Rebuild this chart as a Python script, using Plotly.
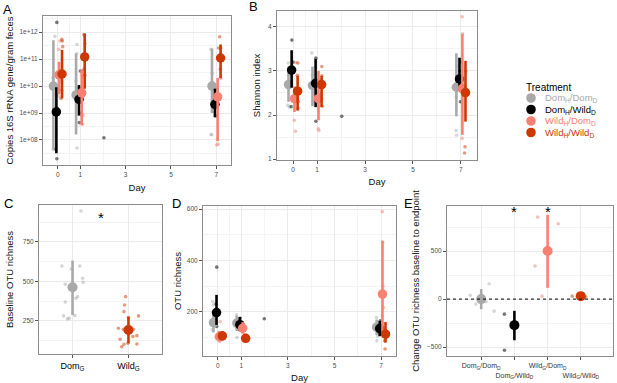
import plotly.graph_objects as go

W, H = 617, 383
FONT = "Liberation Sans, Arial, sans-serif"

# ---------------- data ----------------
days = [0, 1, 7]
groups = ["Dom<sub>H</sub>/Dom<sub>D</sub>", "Dom<sub>H</sub>/Wild<sub>D</sub>",
          "Wild<sub>H</sub>/Dom<sub>D</sub>", "Wild<sub>H</sub>/Wild<sub>D</sub>"]
group_colors = ["#A9A9A9", "#000000", "#FA8072", "#CD3700"]
raw_colors = ["rgba(169,169,169,0.45)", "rgba(30,30,30,0.6)",
              "rgba(250,128,114,0.5)", "rgba(205,55,0,0.5)"]
dodge = [-0.19, -0.06, 0.06, 0.19]
day_ticks = [0, 1, 3, 5, 7]

# Panel A: copies 16S rRNA gene / gram feces
a_mean = [[1.0e10, 4.7e9, 1.0e10], [1.1e9, 3.2e9, 2.1e9],
          [2.6e10, 5.6e9, 4.0e9], [2.8e10, 1.2e11, 1.1e11]]
a_low = [[4.5e7, 1.6e8, 1.0e9], [3.2e7, 8.0e8, 7.0e8],
         [5.0e9, 3.5e8, 9.0e7], [3.5e9, 8.0e9, 2.0e10]]
a_high = [[5.0e11, 1.6e11, 2.5e11], [9.0e9, 1.1e10, 8.0e9],
          [8.0e10, 4.0e10, 2.0e10], [2.2e11, 9.0e11, 3.5e11]]
a_raw_x = [[-0.13, -0.2, -0.22, -0.12, 0.85, 0.85, 0.84, 0.8, 6.76, 6.77, 6.8, 6.82],
           [-0.04, -0.1, -0.04, -0.02, 0.95, 1.0, 0.95, 1.0, 2.04, 7.0, 6.97, 7.0],
           [0.1, 0.05, 0.05, 0.12, 1.1, 1.05, 1.12, 1.08, 7.05, 7.08, 7.02],
           [0.18, 0.2, 0.22, 0.17, 0.15, 1.15, 1.15, 1.2, 1.2, 7.15, 7.2, 7.1, 7.18, 7.2]]
a_raw_y = [[7.0e11, 4.3e7, 2.0e10, 5.0e9, 3.5e11, 5.0e7, 1.6e11, 1.5e10, 2.3e11, 1.6e8, 1.55e8, 3.0e10],
           [2.3e12, 4.6e7, 2.0e7, 1.5e9, 8.7e9, 1.0e9, 4.4e8, 3.6e10, 1.2e8, 7.6e9, 7.8e8, 8.0e8],
           [4.7e11, 2.3e11, 4.3e9, 1.5e10, 3.8e8, 7.8e8, 8.5e8, 2.5e10, 1.1e8, 7.0e7, 6.5e7],
           [5.4e11, 4.7e11, 2.9e11, 7.0e9, 3.5e9, 8.0e11, 4.2e10, 3.8e11, 2.5e10, 6.8e11, 2.6e11, 2.6e11, 4.2e10, 2.0e10]]
a_ticks = [1e8, 1e9, 1e10, 1e11, 1e12]
a_ticktext = ["1e+08", "1e+09", "1e+10", "1e+11", "1e+12"]
a_minor = [3.16e7, 3.16e8, 3.16e9, 3.16e10, 3.16e11, 3.16e12]

# Panel B: Shannon index
b_mean = [[2.69, 2.67, 2.63], [3.02, 2.72, 2.82], [2.37, 2.37, 2.6], [2.54, 2.69, 2.51]]
b_low = [[2.3, 2.2, 1.97], [2.62, 2.18, 2.55], [2.07, 1.88, 1.55], [2.1, 2.18, 1.85]]
b_high = [[3.1, 3.1, 3.4], [3.47, 3.27, 3.3], [2.65, 3.0, 3.84], [2.89, 2.89, 3.23]]
b_raw_x = [[-0.2, -0.22, -0.15, -0.2, -0.18, 0.78, 0.82, 0.8, 0.85, 6.8, 6.82, 6.85, 6.8],
           [-0.05, -0.08, 0.0, 0.95, 0.95, 1.0, 2.03, 6.95, 6.98, 7.0],
           [0.05, 0.1, 0.12, 0.08, 1.05, 1.08, 1.1, 1.06, 7.05, 7.07, 7.05],
           [0.2, 0.18, 0.22, 0.2, 1.2, 1.2, 1.22, 1.18, 7.17, 7.15, 7.2, 7.18]]
b_raw_y = [[3.18, 2.22, 2.18, 2.6, 2.9, 3.41, 2.31, 2.9, 2.5, 1.65, 1.54, 3.1, 2.4],
           [3.7, 2.19, 3.2, 1.86, 3.29, 2.5, 1.97, 3.0, 2.3, 3.2],
           [1.88, 1.63, 3.19, 2.5, 1.69, 1.65, 2.8, 2.2, 4.23, 3.84, 1.47],
           [3.18, 2.9, 2.3, 2.15, 3.1, 2.89, 2.2, 2.5, 1.28, 1.14, 3.0, 2.6]]

# Panel C: baseline OTU richness
c_cats = ["Dom<sub>G</sub>", "Wild<sub>G</sub>"]
c_mean = [463, 193]
c_low = [288, 109]
c_high = [632, 277]
c_raw_dom_x = [1.15, 0.81, 1.13, 0.98, 1.18, 1.19, 0.87, 1.09, 1.06, 0.87, 0.84, 1.04, 0.91, 0.94]
c_raw_dom_y = [946, 598, 598, 579, 520, 495, 482, 404, 394, 370, 282, 284, 263, 267]
c_raw_wild_x = [1.95, 1.93, 1.92, 2.18, 2.0, 1.82, 1.91, 2.09, 2.15, 2.08, 1.85, 1.99, 1.92, 2.15, 1.88]
c_raw_wild_y = [404, 351, 309, 282, 271, 204, 197, 197, 157, 151, 134, 109, 102, 104, 87]

# Panel D: OTU richness
d_mean = [[158, 156, 140], [197, 150, 135], [103, 136, 269], [106, 97, 113]]
d_low = [[120, 125, 110], [149, 125, 105], [85, 115, 119], [90, 85, 80]]
d_high = [[200, 185, 170], [266, 180, 165], [125, 160, 477], [125, 110, 160]]
d_raw_x = [[-0.22, -0.2, -0.25, -0.18, 0.8, 0.82, 0.8, 0.85, 6.8, 6.82, 6.85, 6.8],
           [-0.05, -0.05, -0.08, 0.95, 0.95, 1.0, 1.99, 6.97, 6.95, 7.0],
           [0.1, 0.05, 0.08, 0.05, 1.05, 1.08, 1.06, 7.05, 7.07, 7.08, 7.1, 7.05],
           [0.2, 0.15, 0.22, 1.2, 1.22, 1.15, 7.2, 7.15, 7.17]]
d_raw_y = [[240, 227, 130, 180, 188, 100, 136, 165, 178, 87, 106, 150],
           [374, 143, 230, 175, 130, 160, 173, 165, 119, 150],
           [162, 91, 84, 120, 132, 123, 153, 590, 470, 301, 217, 184],
           [117, 97, 95, 106, 88, 110, 119, 87, 55]]

# Panel E: change in OTU richness baseline to endpoint
e_cats = ["Dom<sub>G</sub>/Dom<sub>D</sub>", "<br>Dom<sub>G</sub>/Wild<sub>D</sub>",
          "Wild<sub>G</sub>/Dom<sub>D</sub>", "<br>Wild<sub>G</sub>/Wild<sub>D</sub>"]
e_mean = [0, -272, 503, 31]
e_low = [-105, -430, 118, 15]
e_high = [105, -122, 880, 50]
e_raw_x = [[0.67, 1.24, 0.84, 1.39, 1.15], [1.7, 1.7], [2.7, 3.32, 2.62, 2.83], [3.74, 4.15, 4.05]]
e_raw_y = [[39, 160, -52, -126, -28], [-157, -534], [856, 786, 346, 31], [31, 24, 40]]

# ---------------- figure ----------------
fig = go.Figure()


def err(means, low, high):
    return dict(type="data", symmetric=False,
                array=[h - m for m, h in zip(means, high)],
                arrayminus=[m - l for m, l in zip(means, low)],
                thickness=2.6, width=0)


def add_time_panel(idx, mean, low, high, rx, ry):
    xa, ya = ("x", "y") if idx == 1 else (f"x{idx}", f"y{idx}")
    for g in range(4):
        fig.add_trace(go.Scatter(x=rx[g], y=ry[g], mode="markers", xaxis=xa, yaxis=ya,
                                 marker=dict(size=3.6, color=raw_colors[g], line=dict(width=0)),
                                 showlegend=False, hoverinfo="skip"))
    for g in range(4):
        fig.add_trace(go.Scatter(x=[d + dodge[g] for d in days], y=mean[g], mode="markers",
                                 xaxis=xa, yaxis=ya,
                                 marker=dict(size=9.5, color=group_colors[g], line=dict(width=0)),
                                 error_y=dict(err(mean[g], low[g], high[g]), color=group_colors[g]),
                                 showlegend=False, name=groups[g]))


add_time_panel(1, a_mean, a_low, a_high, a_raw_x, a_raw_y)
add_time_panel(2, b_mean, b_low, b_high, b_raw_x, b_raw_y)
add_time_panel(4, d_mean, d_low, d_high, d_raw_x, d_raw_y)

# Panel C
fig.add_trace(go.Scatter(x=c_raw_dom_x, y=c_raw_dom_y, mode="markers", xaxis="x3", yaxis="y3",
                         marker=dict(size=3.6, color="rgba(169,169,169,0.5)"), showlegend=False))
fig.add_trace(go.Scatter(x=c_raw_wild_x, y=c_raw_wild_y, mode="markers", xaxis="x3", yaxis="y3",
                         marker=dict(size=3.6, color="rgba(205,55,0,0.5)"), showlegend=False))
c_colors = [group_colors[0], group_colors[3]]
for i in range(2):
    fig.add_trace(go.Scatter(x=[i + 1], y=[c_mean[i]], mode="markers", xaxis="x3", yaxis="y3",
                             marker=dict(size=10, color=c_colors[i]),
                             error_y=dict(err([c_mean[i]], [c_low[i]], [c_high[i]]), color=c_colors[i]),
                             showlegend=False))

# Panel E
for g in range(4):
    fig.add_trace(go.Scatter(x=e_raw_x[g], y=e_raw_y[g], mode="markers", xaxis="x5", yaxis="y5",
                             marker=dict(size=3.6, color=raw_colors[g]), showlegend=False))
for g in range(4):
    fig.add_trace(go.Scatter(x=[g + 1], y=[e_mean[g]], mode="markers", xaxis="x5", yaxis="y5",
                             marker=dict(size=10, color=group_colors[g]),
                             error_y=dict(err([e_mean[g]], [e_low[g]], [e_high[g]]), color=group_colors[g]),
                             showlegend=False))


# ---------------- axes ----------------
def px_x(p):
    return p / W


def px_y(p):
    return 1 - p / H


def axis(dom, rng, title=None, standoff=5, **kw):
    d = dict(domain=dom, range=rng, showline=True, mirror=True, linecolor="#8c8c8c", linewidth=1,
             showgrid=True, gridcolor="#ebebeb", gridwidth=0.9, zeroline=False,
             ticks="outside", ticklen=3, tickcolor="#555555", tickwidth=0.8, tickangle=0,
             tickfont=dict(size=6.5, color="#4d4d4d", family=FONT), automargin=False)
    if title:
        d["title"] = dict(text=title, font=dict(size=9.5, color="#111111", family=FONT), standoff=standoff)
    d.update(kw)
    return d


day_minor = dict(tickvals=[0.5, 2, 4, 6], showgrid=True, gridcolor="#f4f4f4", ticklen=0)

fig.update_layout(
    xaxis=axis([px_x(43), px_x(231)], [-0.65, 7.65], "Day", 7, tickvals=day_ticks, minor=day_minor, anchor="y"),
    yaxis=axis([px_y(165), px_y(16)], [7.07, 12.6], "Copies 16S rRNA gene/gram feces", 4,
               type="log", tickvals=a_ticks, ticktext=a_ticktext, anchor="x",
               minor=dict(tickvals=a_minor, showgrid=True, gridcolor="#f4f4f4", ticklen=0)),
    xaxis2=axis([px_x(277), px_x(477)], [-0.67, 7.67], "Day", 6, tickvals=day_ticks, minor=day_minor, anchor="y2"),
    yaxis2=axis([px_y(160), px_y(11)], [0.98, 4.36], "Shannon index", 5, tickvals=[1, 2, 3, 4], anchor="x2",
                minor=dict(tickvals=[1.5, 2.5, 3.5], showgrid=True, gridcolor="#f4f4f4", ticklen=0)),
    xaxis3=axis([px_x(39), px_x(162)], [0.4, 2.6], None, tickvals=[1, 2], ticktext=c_cats, anchor="y3",
                tickfont=dict(size=9, color="black", family=FONT)),
    yaxis3=axis([px_y(354), px_y(205)], [41, 984], "Baseline OTU richness", 7, tickvals=[250, 500, 750], anchor="x3",
                minor=dict(tickvals=[125, 375, 625, 875], showgrid=True, gridcolor="#f4f4f4", ticklen=0)),
    xaxis4=axis([px_x(203), px_x(396)], [-0.64, 7.64], "Day", 9, tickvals=day_ticks, minor=day_minor, anchor="y4"),
    yaxis4=axis([px_y(356), px_y(206)], [28, 612], "OTU richness", 3, tickvals=[200, 400, 600], anchor="x4",
                minor=dict(tickvals=[100, 300, 500], showgrid=True, gridcolor="#f4f4f4", ticklen=0)),
    xaxis5=axis([px_x(447), px_x(613)], [-0.03, 4.97], None, tickvals=[1, 2, 3, 4], ticktext=e_cats, anchor="y5",
                tickfont=dict(size=7, color="#333333", family=FONT)),
    yaxis5=axis([px_y(356), px_y(206)], [-594, 972], "Change OTU richness baseline to endpoint", 5,
                tickvals=[-500, 0, 500], anchor="x5",
                minor=dict(tickvals=[-250, 250, 750], showgrid=True, gridcolor="#f4f4f4", ticklen=0)),
)

# dotted zero line in E
fig.add_shape(type="line", xref="x5 domain", yref="y5", x0=0, x1=1, y0=0, y1=0,
              line=dict(color="black", width=1, dash="dot"))

annotations = []
# panel letters
for lab, (lx, ly) in {"A": (7, 9), "B": (253, 7), "C": (8, 203), "D": (176, 203), "E": (408, 203)}.items():
    annotations.append(dict(text=lab, x=px_x(lx), y=px_y(ly), xref="paper", yref="paper", showarrow=False,
                            font=dict(size=13, color="black", family=FONT), xanchor="center", yanchor="middle"))
# significance asterisks
annotations.append(dict(text="*", x=1.5, y=902, xref="x3", yref="y3", showarrow=False,
                        font=dict(size=15, color="black", family=FONT)))
for xc in [2, 3]:
    annotations.append(dict(text="*", x=xc, y=915, xref="x5", yref="y5", showarrow=False,
                            font=dict(size=15, color="black", family=FONT)))

# manual legend
annotations.append(dict(text="Treatment", x=px_x(524), y=px_y(87), xref="paper", yref="paper", showarrow=False,
                        xanchor="left", yanchor="middle", font=dict(size=10, color="black", family=FONT)))
leg_y = [98, 109.5, 121, 132.5]
for g in range(4):
    fig.add_shape(type="circle", xref="paper", yref="paper", xsizemode="pixel", ysizemode="pixel",
                  xanchor=px_x(531), yanchor=px_y(leg_y[g]), x0=-4.8, x1=4.8, y0=-4.8, y1=4.8,
                  fillcolor=group_colors[g], line=dict(width=0))
    annotations.append(dict(text=groups[g], x=px_x(543), y=px_y(leg_y[g]), xref="paper", yref="paper",
                            showarrow=False, xanchor="left", yanchor="middle",
                            font=dict(size=9.5, color=group_colors[g], family=FONT)))

fig.update_layout(annotations=annotations, width=W, height=H, margin=dict(l=0, r=0, t=0, b=0),
                  paper_bgcolor="white", plot_bgcolor="white", showlegend=False,
                  font=dict(family=FONT))

fig.write_html("out.html", config={"displayModeBar": False},
               post_script="document.body.style.margin='0';")
